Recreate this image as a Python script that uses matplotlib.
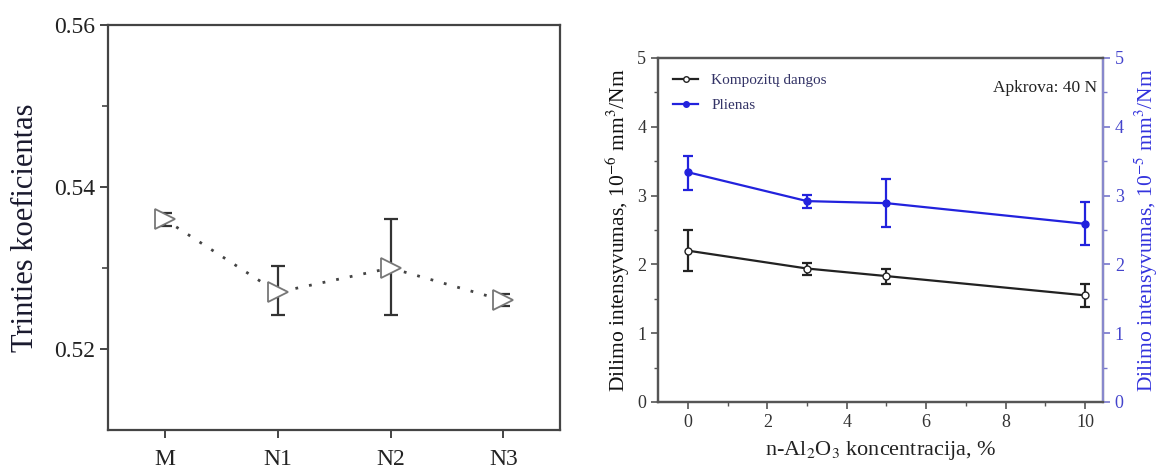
import matplotlib
matplotlib.use("Agg")
import matplotlib.pyplot as plt
from matplotlib.ticker import MultipleLocator
from matplotlib.lines import Line2D

# Friction coefficient per coating
samples = ["M", "N1", "N2", "N3"]
friction = [0.536, 0.527, 0.530, 0.526]
friction_lo = [0.5352, 0.5242, 0.5242, 0.5253]
friction_hi = [0.5368, 0.5302, 0.5360, 0.5268]

# Wear rate vs n-Al2O3 concentration
conc = [0, 3, 5, 10]
coat_wear = [2.20, 1.94, 1.83, 1.55]
coat_lo = [1.90, 1.84, 1.72, 1.38]
coat_hi = [2.50, 2.02, 1.94, 1.72]
steel_wear = [3.34, 2.92, 2.89, 2.59]
steel_lo = [3.08, 2.82, 2.54, 2.28]
steel_hi = [3.58, 3.01, 3.24, 2.90]

serif = ["Liberation Serif", "DejaVu Serif"]
plt.rcParams["font.family"] = serif
plt.rcParams["mathtext.fontset"] = "stix"

fig = plt.figure(figsize=(11.63, 4.70), dpi=100)

# ---- left panel ----
ax1 = fig.add_axes([0.0929, 0.0851, 0.3886, 0.8617])
xs = list(range(len(samples)))
yerr = [[f - lo for f, lo in zip(friction, friction_lo)],
        [hi - f for f, hi in zip(friction, friction_hi)]]
ax1.errorbar(xs, friction, yerr=yerr, fmt="none", ecolor="#333333",
             elinewidth=1.6, capsize=5, capthick=1.6, zorder=2)
ax1.plot(xs, friction, linestyle=(0, (1, 4)), color="#444444", linewidth=2.0,
         marker=">", markersize=14, markerfacecolor="white",
         markeredgecolor="#777777", markeredgewidth=1.3, zorder=3)
ax1.set_xlim(-0.5, 3.5)
ax1.set_ylim(0.51, 0.56)
ax1.set_xticks(xs)
ax1.set_xticklabels(samples)
ax1.set_yticks([0.52, 0.54, 0.56])
ax1.set_yticklabels(["0.52", "0.54", "0.56"])
ax1.set_yticks([0.53, 0.55], minor=True)
ax1.tick_params(axis="both", which="major", direction="out", length=6,
                width=1.4, labelsize=17, color="#444444", labelcolor="#222222")
ax1.tick_params(axis="x", which="major", pad=8)
ax1.tick_params(axis="y", which="minor", direction="out", length=4,
                width=1.2, color="#444444")
for s in ax1.spines.values():
    s.set_linewidth(1.6)
    s.set_color("#444444")
ax1.set_ylabel("Trinties koeficientas", fontsize=22, color="#1a1a2e", labelpad=10)

# ---- right panel ----
ax2 = fig.add_axes([0.5658, 0.1447, 0.3826, 0.7319])
ax3 = ax2.twinx()
blue = "#2222dd"
cerr = [[w - lo for w, lo in zip(coat_wear, coat_lo)],
        [hi - w for w, hi in zip(coat_wear, coat_hi)]]
serr = [[w - lo for w, lo in zip(steel_wear, steel_lo)],
        [hi - w for w, hi in zip(steel_wear, steel_hi)]]
ax2.errorbar(conc, coat_wear, yerr=cerr, color="#222222", linewidth=1.6,
             marker="o", markersize=5, markerfacecolor="white",
             markeredgecolor="#222222", elinewidth=1.6, capsize=3.5, capthick=1.6)
ax3.errorbar(conc, steel_wear, yerr=serr, color=blue, linewidth=1.6,
             marker="o", markersize=5, markerfacecolor=blue,
             markeredgecolor=blue, elinewidth=1.6, capsize=3.5, capthick=1.6)
for a in (ax2, ax3):
    a.set_ylim(0, 5)
    a.set_xlim(-0.75, 10.45)
    a.yaxis.set_major_locator(MultipleLocator(1))
    a.yaxis.set_minor_locator(MultipleLocator(0.5))
ax2.xaxis.set_major_locator(MultipleLocator(2))
ax2.xaxis.set_minor_locator(MultipleLocator(1))
ax2.tick_params(axis="both", which="major", direction="out", length=5,
                width=1.2, labelsize=13, color="#555555", labelcolor="#333333")
ax2.tick_params(axis="both", which="minor", direction="out", length=3,
                width=1.0, color="#555555")
ax3.tick_params(axis="y", which="major", direction="out", length=5,
                width=1.2, labelsize=13, color="#7777cc", labelcolor="#4444cc")
ax3.tick_params(axis="y", which="minor", direction="out", length=3,
                width=1.0, color="#7777cc")
for name, s in ax2.spines.items():
    s.set_linewidth(1.6)
    s.set_color("#555555")
for name, s in ax3.spines.items():
    s.set_linewidth(1.6)
    s.set_color("#555555")
ax3.spines["right"].set_color("#8888cc")

ax2.set_xlabel(r"n-Al$_2$O$_3$ koncentracija, %", fontsize=16, color="#222222",
               labelpad=6)
ax2.set_ylabel(r"Dilimo intensyvumas, 10$^{-6}$ mm$^3$/Nm", fontsize=15.5,
               color="#111111", labelpad=4)
ax3.set_ylabel(r"Dilimo intensyvumas, 10$^{-5}$ mm$^3$/Nm", fontsize=15.5,
               color="#3333dd", labelpad=6)

handles = [
    Line2D([0], [0], color="#222222", linewidth=1.6, marker="o", markersize=4,
           markerfacecolor="white", markeredgecolor="#222222"),
    Line2D([0], [0], color=blue, linewidth=1.6, marker="o", markersize=4,
           markerfacecolor=blue, markeredgecolor=blue),
]
ax2.legend(handles, ["Kompozitų dangos", "Plienas"], loc="upper left",
           frameon=False, fontsize=11, handlelength=1.6, handletextpad=0.9,
           labelspacing=0.75, borderaxespad=0.6, labelcolor="#333366")
ax2.text(0.987, 0.935, "Apkrova: 40 N", transform=ax2.transAxes,
         ha="right", va="top", fontsize=12.5, color="#222222")

fig.savefig("out.png", dpi=100)
